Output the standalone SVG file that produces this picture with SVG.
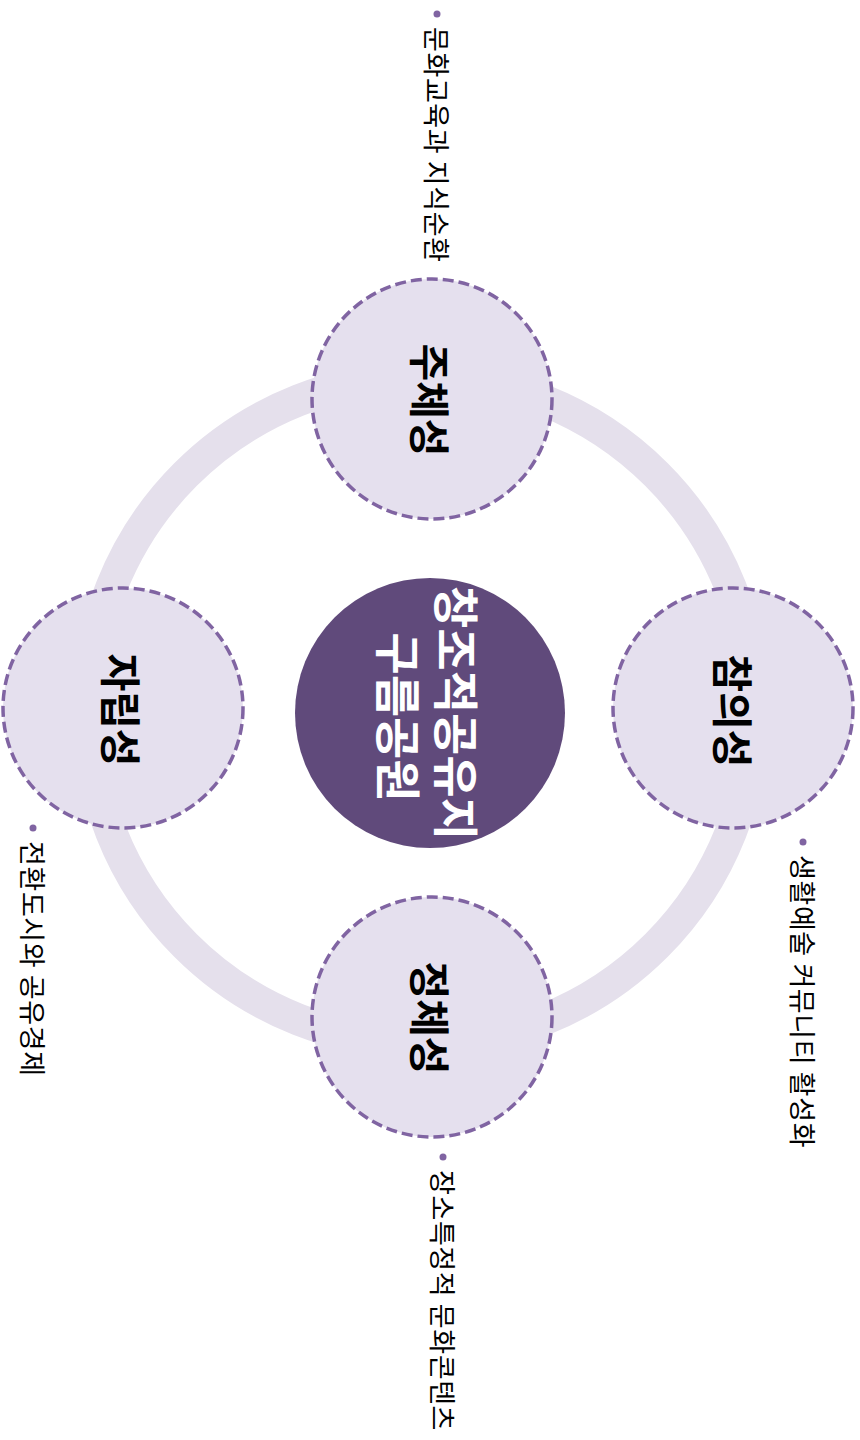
<svg xmlns="http://www.w3.org/2000/svg" width="860" height="1440" viewBox="0 0 860 1440">
<style>
.ring{fill:none;stroke:#e5e0ec;stroke-width:32}
.node{fill:#e5e0ee;stroke:#8064a2;stroke-width:3.5;stroke-dasharray:11 5}
.lbl{font-family:"Noto Sans CJK KR","Noto Sans",sans-serif;font-weight:bold;font-size:41px;fill:#000;text-anchor:middle;dominant-baseline:central}
.ctr{font-family:"Noto Sans CJK KR","Noto Sans",sans-serif;font-weight:bold;font-size:46px;fill:#fff;text-anchor:middle;dominant-baseline:central}
.note{font-family:"Noto Sans CJK KR","Noto Sans",sans-serif;font-size:27px;letter-spacing:0.6px;fill:#000;dominant-baseline:central}
.dot{fill:#8064a2}
</style>
<rect width="860" height="1440" fill="#fff"/>
<g id="connectors">
<circle class="ring" cx="421" cy="710" r="333"/>
</g>
<g id="center">
<circle cx="430" cy="713" r="135" fill="#604a7b"/>
<text class="ctr" transform="translate(459,713) rotate(90)">창조적공유지</text>
<text class="ctr" transform="translate(401,717) rotate(90)">구름공원</text>
</g>
<g id="node-top">
<circle class="node" cx="432" cy="399" r="120"/>
<text class="lbl" transform="translate(432,400) rotate(90)">주체성</text>
</g>
<g id="node-right">
<circle class="node" cx="733" cy="708" r="120"/>
<text class="lbl" transform="translate(735,711) rotate(90)">참의성</text>
</g>
<g id="node-bottom">
<circle class="node" cx="432" cy="1017" r="120"/>
<text class="lbl" transform="translate(432,1018) rotate(90)">정체성</text>
</g>
<g id="node-left">
<circle class="node" cx="123" cy="708" r="120"/>
<text class="lbl" transform="translate(123,710) rotate(90)">자립성</text>
</g>
<g id="note-top">
<circle class="dot" cx="437" cy="14" r="3.5"/>
<text class="note" transform="translate(437,27) rotate(90)">문화교육과 지식순환</text>
</g>
<g id="note-right">
<circle class="dot" cx="803" cy="842" r="3.5"/>
<text class="note" transform="translate(803,855) rotate(90)">생활예술 커뮤니티 활성화</text>
</g>
<g id="note-bottom">
<circle class="dot" cx="443" cy="1157" r="3.5"/>
<text class="note" transform="translate(443,1170) rotate(90)">장소특정적 문화콘텐츠</text>
</g>
<g id="note-left">
<circle class="dot" cx="33" cy="828" r="3.5"/>
<text class="note" transform="translate(33,841) rotate(90)">전환도시와 공유경제</text>
</g>
</svg>
